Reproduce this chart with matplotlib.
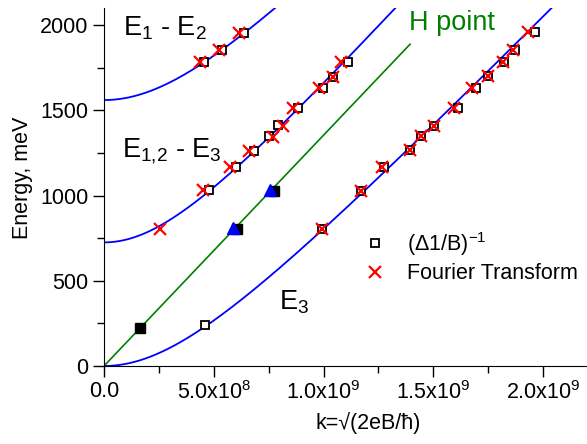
import numpy as np
import matplotlib
matplotlib.use("Agg")
import matplotlib.pyplot as plt
from matplotlib.ticker import FixedLocator

plt.rcParams['font.family'] = ['Liberation Sans', 'DejaVu Sans']
plt.rcParams['mathtext.fontset'] = 'custom'
plt.rcParams['mathtext.rm'] = 'Liberation Sans'
plt.rcParams['mathtext.it'] = 'Liberation Sans:italic'

# measured points, k in units of 1e9
e12_sq_k = [0.456, 0.536, 0.638]
e12_sq_E = [1784, 1851, 1956]
e12_x_k = [0.437, 0.524, 0.617]
e12_x_E = [1786, 1851, 1956]

e123_sq_k = [0.480, 0.601, 0.685, 0.753, 0.791, 0.885, 0.996, 1.045, 1.113]
e123_sq_E = [1033, 1166, 1264, 1350, 1414, 1512, 1630, 1698, 1786]
e123_x_k = [0.255, 0.452, 0.574, 0.661, 0.768, 0.814, 0.860, 0.981, 1.042, 1.078]
e123_x_E = [802, 1033, 1166, 1264, 1346, 1409, 1512, 1630, 1698, 1786]

e3_sq_k = [0.460, 0.995, 1.171, 1.276, 1.394, 1.444, 1.503, 1.614, 1.695, 1.751, 1.822, 1.874, 1.965]
e3_sq_E = [238, 802, 1029, 1166, 1268, 1350, 1409, 1512, 1630, 1702, 1784, 1851, 1960]
e3_x_k = [0.995, 1.171, 1.265, 1.394, 1.444, 1.503, 1.595, 1.675, 1.751, 1.819, 1.862, 1.929]
e3_x_E = [802, 1029, 1166, 1268, 1350, 1409, 1512, 1630, 1702, 1784, 1851, 1960]

h_sq_k = [0.164, 0.607, 0.776]
h_sq_E = [221, 802, 1029]
h_tri_k = [0.589, 0.756]
h_tri_E = [808, 1033]

# model curves: E = E0 + sqrt((v k)^2 + D^2) - D
curve_params = [(1560, 1307, 690), (725, 1440, 640), (0, 1326, 690)]
h_slope = 1354
h_kmax = 1.394

xticks = [0, 0.5e9, 1.0e9, 1.5e9, 2.0e9]
xticklabels = ['0.0', r'5.0x10$^{8}$', r'1.0x10$^{9}$', r'1.5x10$^{9}$', r'2.0x10$^{9}$']
yticks = [0, 500, 1000, 1500, 2000]

fig = plt.figure(figsize=(5.87, 4.44), dpi=100)
ax = fig.add_axes([104 / 587, 78 / 444, 483 / 587, 358 / 444])

kk = np.linspace(0, 2.3, 400)
for E0, v, D in curve_params:
    ax.plot(kk * 1e9, E0 + np.sqrt((v * kk) ** 2 + D ** 2) - D, color='#0000ff', lw=1.3, zorder=2)
kh = np.linspace(0, h_kmax, 50)
ax.plot(kh * 1e9, h_slope * kh, color='#008000', lw=1.2, zorder=2)

sq = dict(marker='s', ls='none', mfc='white', mec='black', ms=6, mew=1.3)
cr = dict(marker='x', ls='none', color='#ff0000', ms=9, mew=1.6)
ax.plot(np.array(e12_sq_k) * 1e9, e12_sq_E, zorder=3, **sq)
ax.plot(np.array(e123_sq_k) * 1e9, e123_sq_E, zorder=3, **sq)
ax.plot(np.array(e3_sq_k) * 1e9, e3_sq_E, zorder=3, label=r'(Δ1/B)$^{\mathrm{-1}}$', **sq)
ax.plot(np.array(e12_x_k) * 1e9, e12_x_E, zorder=4, **cr)
ax.plot(np.array(e123_x_k) * 1e9, e123_x_E, zorder=4, **cr)
ax.plot(np.array(e3_x_k) * 1e9, e3_x_E, zorder=4, label='Fourier Transform', **cr)
ax.plot(np.array(h_sq_k) * 1e9, h_sq_E, marker='s', ls='none', color='black', ms=7, zorder=4)
ax.plot(np.array(h_tri_k) * 1e9, h_tri_E, marker='^', ls='none', color='#0000ff', ms=8, zorder=5)

ax.set_xlim(0, 2.2e9)
ax.set_ylim(0, 2100)
ax.spines['top'].set_visible(False)
ax.spines['right'].set_visible(False)
ax.xaxis.set_major_locator(FixedLocator(xticks))
ax.set_xticklabels(xticklabels)
ax.xaxis.set_minor_locator(FixedLocator([0.25e9, 0.75e9, 1.25e9, 1.75e9]))
ax.yaxis.set_major_locator(FixedLocator(yticks))
ax.yaxis.set_minor_locator(FixedLocator([250, 750, 1250, 1750]))
ax.tick_params(which='major', length=8, width=1, labelsize=15.5, pad=3)
ax.tick_params(which='minor', length=5, width=1)

ax.set_xlabel('k=√(2eB/ħ)', fontsize=15.5)
ax.xaxis.set_label_coords((368 - 104) / 483, -0.128)
ax.set_ylabel('Energy, meV', fontsize=15.5)
ax.yaxis.set_label_coords(-0.147, 0.525)

ax.text(0.0866e9, 1937, r'E$_{\mathrm{1}}$ - E$_{\mathrm{2}}$', fontsize=19.5, va='baseline')
ax.text(0.080e9, 1228, r'E$_{\mathrm{1{,}2}}$ - E$_{\mathrm{3}}$', fontsize=19.5, va='baseline')
ax.text(1.387e9, 1972, 'H point', fontsize=19.5, color='#008000', va='baseline')
ax.text(0.797e9, 329, r'E$_{\mathrm{3}}$', fontsize=19.5, va='baseline')

ax.legend(loc='upper left', bbox_to_anchor=(0.538, 0.38), frameon=False, fontsize=15.5,
          borderpad=0, borderaxespad=0, handlelength=1.0, handletextpad=1.0,
          labelspacing=0.25, numpoints=1)

fig.savefig('out.png', dpi=100)
